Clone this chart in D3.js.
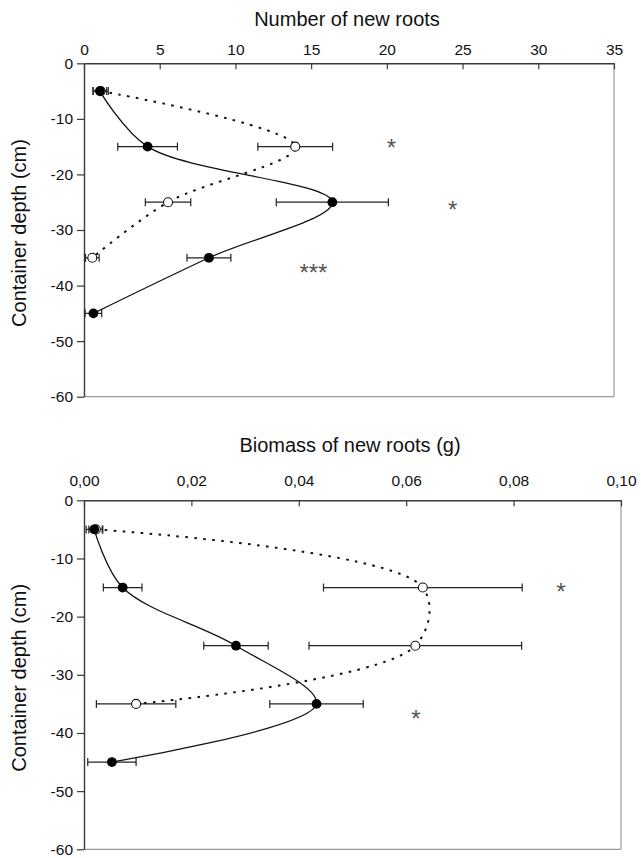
<!DOCTYPE html>
<html>
<head>
<meta charset="utf-8">
<script src="https://cdn.jsdelivr.net/npm/d3@7"></script>
<style>
  html, body { margin: 0; padding: 0; background: #fff; }
  svg { display: block; font-family: "Liberation Sans", Arial, sans-serif; }
</style>
</head>
<body>
<svg id="fig" width="641" height="858"></svg>
<script>
// Depth of each sampling layer (cm below the surface)
const depths = [-5, -15, -25, -35, -45];

// Panel 1: number of new roots per layer
const countFilled    = [1.05, 4.2, 16.4, 8.25, 0.62];
const countFilledErr = [0.45, 1.97, 3.7, 1.45, 0.55];
const countOpen      = [1.1, 13.95, 5.55, 0.55];
const countOpenErr   = [0.5, 2.47, 1.5, 0.45];

// Panel 2: biomass of new roots per layer (g)
const massFilled    = [0.0019, 0.0072, 0.0283, 0.0433, 0.0052];
const massFilledErr = [0.0015, 0.0036, 0.006, 0.0087, 0.0045];
const massOpen      = [0.0022, 0.0631, 0.0617, 0.0097];
const massOpenErr   = [0.0013, 0.0185, 0.0198, 0.0074];

// Axis ticks
const countTicks = [0, 5, 10, 15, 20, 25, 30, 35];
const massTicks  = [0, 0.02, 0.04, 0.06, 0.08, 0.10];
const depthTicks = [0, -10, -20, -30, -40, -50, -60];

// Significance marks (value, depth, label)
const countStars = [[20.3, -14.2, "*"], [24.35, -25.4, "*"], [15.15, -36.7, "***"]];
const massStars  = [[0.0888, -14.7, "*"], [0.0618, -36.5, "*"]];

const svg = d3.select("#fig");
const FONT = 15.5;
const AXIS_DARK = "#3a3a3a";
const BORDER = "#9a9a9a";

// plain hyphen for negative numbers
const intFmt = v => String(v);
const commaFmt = v => d3.format(".2f")(v).replace(".", ",");

function seriesRows(vals, errs) {
  return vals.map((v, i) => ({ v, e: errs[i], d: depths[i] }));
}

function panel(cfg) {
  const x = d3.scaleLinear().domain(cfg.xDomain).range([cfg.left, cfg.right]);
  const y = d3.scaleLinear().domain([0, -60]).range([cfg.top, cfg.bottom]);
  const g = svg.append("g");

  // light right/bottom frame
  g.append("line").attr("x1", cfg.right).attr("x2", cfg.right)
    .attr("y1", cfg.top).attr("y2", cfg.bottom)
    .attr("stroke", BORDER).attr("stroke-width", 1.2);
  g.append("line").attr("x1", cfg.left).attr("x2", cfg.right)
    .attr("y1", cfg.bottom).attr("y2", cfg.bottom)
    .attr("stroke", BORDER).attr("stroke-width", 1.2);

  // top axis, ticks pointing into the plot
  const xAxis = d3.axisTop(x).tickValues(cfg.xTicks).tickFormat(cfg.fmt)
    .tickSizeInner(-6).tickSizeOuter(0).tickPadding(cfg.xPad);
  const gx = g.append("g").attr("transform", `translate(0,${cfg.top})`).call(xAxis);
  gx.select(".domain").attr("stroke", AXIS_DARK).attr("stroke-width", 1.4);
  gx.selectAll(".tick line").attr("stroke", AXIS_DARK).attr("stroke-width", 1.2);
  gx.selectAll(".tick text").attr("font-size", FONT).attr("fill", "#111")
    .attr("font-family", "Liberation Sans, Arial, sans-serif");

  // left axis
  const yAxis = d3.axisLeft(y).tickValues(depthTicks).tickFormat(intFmt)
    .tickSizeInner(7).tickSizeOuter(0).tickPadding(4);
  const gy = g.append("g").attr("transform", `translate(${cfg.left},0)`).call(yAxis);
  gy.select(".domain").attr("stroke", AXIS_DARK).attr("stroke-width", 1.4);
  gy.selectAll(".tick line").attr("stroke", AXIS_DARK).attr("stroke-width", 1.2);
  gy.selectAll(".tick text").attr("font-size", FONT).attr("fill", "#111")
    .attr("font-family", "Liberation Sans, Arial, sans-serif");

  // titles
  g.append("text").attr("x", cfg.titleX).attr("y", cfg.titleY)
    .attr("text-anchor", "middle").attr("font-size", 20).attr("fill", "#111")
    .text(cfg.title);
  g.append("text")
    .attr("transform", `translate(26,${(cfg.top + cfg.bottom) / 2 + 3}) rotate(-90)`)
    .attr("text-anchor", "middle").attr("font-size", 20).attr("fill", "#111")
    .text("Container depth (cm)");

  const filled = seriesRows(cfg.filled, cfg.filledErr);
  const open = seriesRows(cfg.open, cfg.openErr);

  // error bars
  const bars = g.append("g").attr("stroke", "#222").attr("stroke-width", 1.2);
  [...open, ...filled].forEach(p => {
    const yy = y(p.d), xl = x(Math.max(0, p.v - p.e)), xr = x(p.v + p.e);
    bars.append("line").attr("x1", xl).attr("x2", xr).attr("y1", yy).attr("y2", yy);
    bars.append("line").attr("x1", xl).attr("x2", xl).attr("y1", yy - 4).attr("y2", yy + 4);
    bars.append("line").attr("x1", xr).attr("x2", xr).attr("y1", yy - 4).attr("y2", yy + 4);
  });

  // smoothed profiles
  const line = d3.line().x(p => x(p.v)).y(p => y(p.d)).curve(d3.curveCatmullRom.alpha(0.5));
  g.append("path").datum(open).attr("d", line).attr("fill", "none")
    .attr("stroke", "#111").attr("stroke-width", 2).attr("stroke-dasharray", "2.6,6.4");
  g.append("path").datum(filled).attr("d", line).attr("fill", "none")
    .attr("stroke", "#111").attr("stroke-width", 1.3);

  // markers
  g.selectAll("circle.open").data(open).join("circle").attr("class", "open")
    .attr("cx", p => x(p.v)).attr("cy", p => y(p.d)).attr("r", 4.5)
    .attr("fill", "#fff").attr("stroke", "#111").attr("stroke-width", 1.1);
  g.selectAll("circle.filled").data(filled).join("circle").attr("class", "filled")
    .attr("cx", p => x(p.v)).attr("cy", p => y(p.d)).attr("r", 4.9)
    .attr("fill", "#000");

  // significance marks
  g.selectAll("text.star").data(cfg.stars).join("text").attr("class", "star")
    .attr("x", s => x(s[0])).attr("y", s => y(s[1]) + 14)
    .attr("text-anchor", "middle").attr("font-size", 24).attr("fill", "#555")
    .text(s => s[2]);
}

panel({
  left: 84, right: 614, top: 63.3, bottom: 396.7,
  xDomain: [0, 35], xTicks: countTicks, fmt: intFmt, xPad: 8,
  title: "Number of new roots", titleX: 347, titleY: 25.5,
  filled: countFilled, filledErr: countFilledErr,
  open: countOpen, openErr: countOpenErr, stars: countStars
});

panel({
  left: 84, right: 621, top: 500.3, bottom: 849.3,
  xDomain: [0, 0.1], xTicks: massTicks, fmt: commaFmt, xPad: 14,
  title: "Biomass of new roots (g)", titleX: 350, titleY: 452,
  filled: massFilled, filledErr: massFilledErr,
  open: massOpen, openErr: massOpenErr, stars: massStars
});
</script>
</body>
</html>
